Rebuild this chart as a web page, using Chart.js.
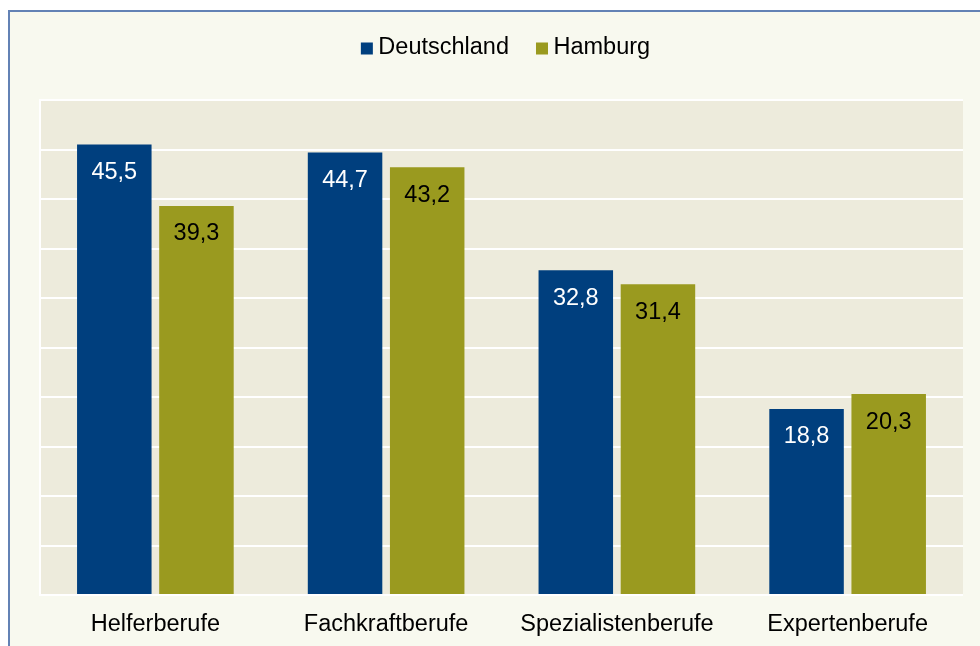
<!DOCTYPE html>
<html>
<head>
<meta charset="utf-8">
<script src="https://cdn.jsdelivr.net/npm/chart.js@4"></script>
<style>
  body { margin: 0; background: #ffffff; overflow: hidden; }
  #rahmen {
    position: absolute; left: 8px; top: 10px; width: 1000px; height: 700px;
    border-left: 2px solid #6382b5; border-top: 2px solid #6382b5;
    background: #f8f9ef;
  }
  #wrap { position: absolute; left: 0; top: 0; width: 980px; height: 646px; }
</style>
</head>
<body>
<div id="rahmen"></div>
<div id="wrap"><canvas id="berufe"></canvas></div>
<script>
// Anteile nach Anforderungsniveau (in %)
const kategorien = ['Helferberufe', 'Fachkraftberufe', 'Spezialistenberufe', 'Expertenberufe'];
const deutschland = [45.5, 44.7, 32.8, 18.8];
const hamburg = [39.3, 43.2, 31.4, 20.3];
const serien = ['Deutschland', 'Hamburg'];
const farben = ['#003f7e', '#9a9a1f'];
const textFarben = ['#ffffff', '#000000'];

Chart.defaults.font.family = '"Liberation Sans", Arial, sans-serif';
Chart.defaults.color = '#000000';
const schrift = '23.5px "Liberation Sans", Arial, sans-serif';

// Hintergrund der Zeichenfläche
const plotHintergrund = {
  id: 'plotHintergrund',
  beforeDraw(chart) {
    const {ctx, chartArea: a} = chart;
    ctx.save();
    ctx.fillStyle = '#edebdc';
    ctx.fillRect(a.left, a.top, a.right - a.left, a.bottom - a.top);
    ctx.restore();
  }
};

// Werte in die Balken schreiben
const werteLabels = {
  id: 'werteLabels',
  afterDatasetsDraw(chart) {
    const ctx = chart.ctx;
    ctx.save();
    ctx.font = schrift;
    ctx.textAlign = 'center';
    ctx.textBaseline = 'middle';
    chart.data.datasets.forEach((ds, i) => {
      chart.getDatasetMeta(i).data.forEach((bar, j) => {
        ctx.fillStyle = textFarben[i];
        ctx.fillText(ds.data[j].toFixed(1).replace('.', ','), bar.x, bar.y + 28);
      });
    });
    ctx.restore();
  }
};

// eigene Legende (kleine Quadrate, enger Abstand)
const legende = {
  id: 'legende',
  afterDraw(chart) {
    const ctx = chart.ctx;
    const a = chart.chartArea;
    ctx.save();
    ctx.font = schrift;
    ctx.textBaseline = 'middle';
    const box = 12, luecke = 5.5, abstand = 27;
    const breiten = serien.map(s => ctx.measureText(s).width);
    const gesamt = breiten.reduce((s, w) => s + box + luecke + w, 0) + abstand * (serien.length - 1);
    let x = (a.left + a.right) / 2 + 4 - gesamt / 2;
    const y = 48;
    serien.forEach((s, i) => {
      ctx.fillStyle = farben[i];
      ctx.fillRect(x, y - 5.5, box, box);
      ctx.fillStyle = '#000000';
      ctx.fillText(s, x + box + luecke, y);
      x += box + luecke + breiten[i] + abstand;
    });
    ctx.restore();
  }
};

const ctx = document.getElementById('berufe').getContext('2d');
new Chart(ctx, {
  type: 'bar',
  data: {
    labels: kategorien,
    datasets: [
      { label: serien[0], data: deutschland, backgroundColor: farben[0] },
      { label: serien[1], data: hamburg, backgroundColor: farben[1] }
    ]
  },
  options: {
    responsive: true,
    maintainAspectRatio: false,
    animation: false,
    layout: { padding: { top: 100, left: 40, right: 17, bottom: 0 } },
    datasets: { bar: { barPercentage: 0.907, categoryPercentage: 0.712 } },
    plugins: {
      legend: { display: false },
      tooltip: { enabled: false }
    },
    scales: {
      x: {
        grid: { display: false, drawTicks: false },
        border: { display: false },
        ticks: { font: { size: 23.5 }, padding: 15, color: '#000000' },
        afterFit(scale) { scale.height = 51; }
      },
      y: {
        min: 0, max: 50,
        ticks: { display: false, stepSize: 5 },
        grid: { color: '#ffffff', lineWidth: 2, drawTicks: false },
        border: { display: true, color: '#ffffff', width: 2 },
        afterFit(scale) { scale.width = 0; }
      }
    }
  },
  plugins: [plotHintergrund, werteLabels, legende]
});
</script>
</body>
</html>
